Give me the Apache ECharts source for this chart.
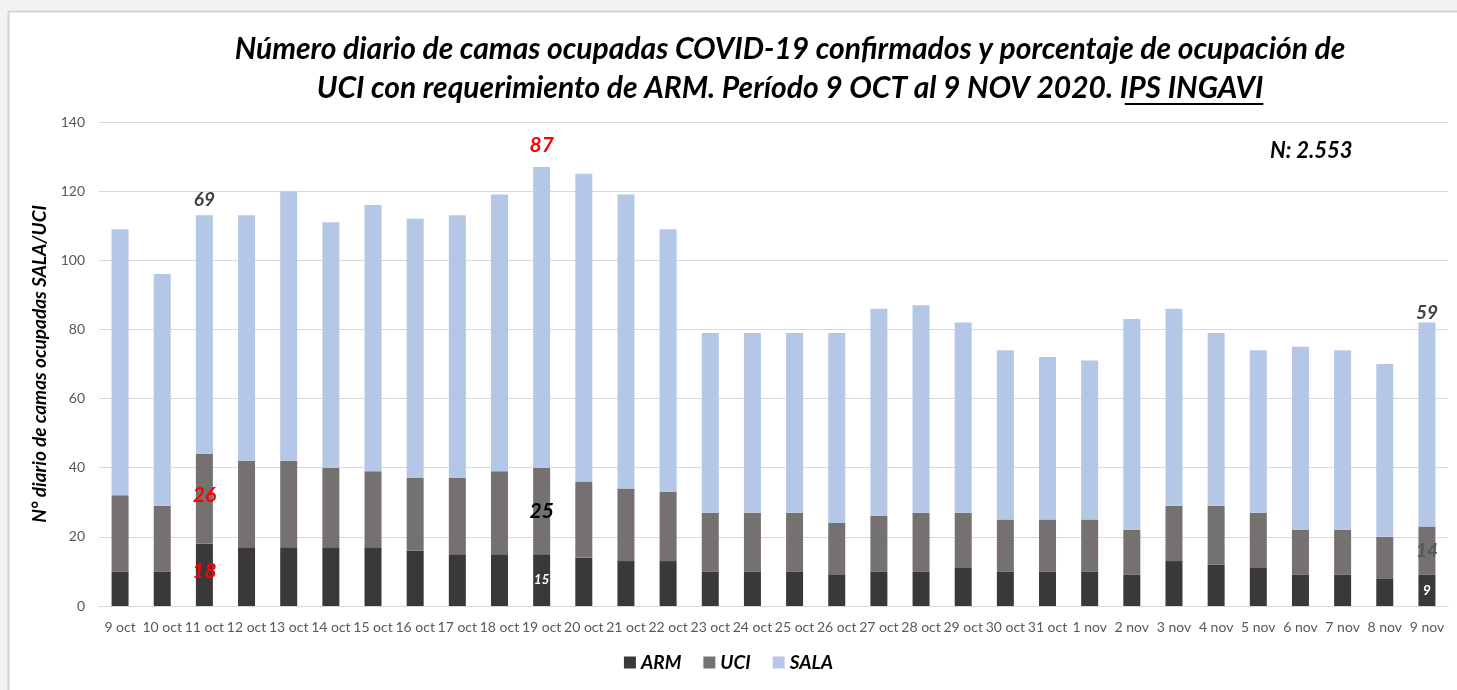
<!DOCTYPE html>
<html>
<head>
<meta charset="utf-8">
<script src="https://cdn.jsdelivr.net/npm/echarts@6/dist/echarts.min.js"></script>
<style>
  html, body { margin: 0; padding: 0; background: #f2f2f2; }
  #chart { width: 1457px; height: 690px; }
</style>
</head>
<body>
<div id="chart"></div>
<script>
// categories (days)
const days = ['9 oct', '10 oct', '11 oct', '12 oct', '13 oct', '14 oct', '15 oct', '16 oct',
  '17 oct', '18 oct', '19 oct', '20 oct', '21 oct', '22 oct', '23 oct', '24 oct', '25 oct',
  '26 oct', '27 oct', '28 oct', '29 oct', '30 oct', '31 oct', '1 nov', '2 nov', '3 nov',
  '4 nov', '5 nov', '6 nov', '7 nov', '8 nov', '9 nov']

// beds per day, stacked ARM + UCI + SALA
const arm  = [10, 10, 18, 17, 17, 17, 17, 16, 15, 15, 15, 14, 13, 13, 10, 10, 10, 9, 10, 10, 11, 10, 10, 10, 9, 13, 12, 11, 9, 9, 8, 9]
const uci  = [22, 19, 26, 25, 25, 23, 22, 21, 22, 24, 25, 22, 21, 20, 17, 17, 17, 15, 16, 17, 16, 15, 15, 15, 13, 16, 17, 16, 13, 13, 12, 14]
const sala = [77, 67, 69, 71, 78, 71, 77, 75, 76, 80, 87, 89, 85, 76, 52, 52, 52, 55, 60, 60, 55, 49, 47, 46, 61, 57, 50, 47, 53, 52, 50, 59]

const yTicks = [0, 20, 40, 60, 80, 100, 120, 140]
const total = 'N: 2.553'

const titleLine1 = 'Número diario de camas ocupadas COVID-19 confirmados y porcentaje de ocupación de'
const titleLine2 = 'UCI con requerimiento de ARM. Período 9 OCT al 9 NOV 2020. IPS INGAVI'
const underlined = 'IPS INGAVI'

const FONT = 'Lato, "Open Sans", sans-serif'
const bi = {fontStyle: 'italic', fontWeight: 'bold', fontFamily: FONT}

// labelled bars: which day gets a value label, per series
function withLabels (values, marks) {
    return values.map((v, i) => marks[i] ? {value: v, label: Object.assign({show: true}, bi, marks[i])} : v)
}

const armData = withLabels(arm, {
    2: {position: 'inside', color: '#ff0000', fontSize: 21, offset: [0, -4]},
    10: {position: 'inside', color: '#ffffff', fontSize: 13},
    31: {position: 'inside', color: '#ffffff', fontSize: 14}
})
const uciData = withLabels(uci, {
    2: {position: 'inside', color: '#ff0000', fontSize: 21, offset: [0, -4]},
    10: {position: 'inside', color: '#000000', fontSize: 21},
    31: {position: 'inside', color: '#595959', fontSize: 19}
})
const salaData = withLabels(sala, {
    2: {position: 'top', color: '#404040', fontSize: 19, distance: 6},
    10: {position: 'top', color: '#ff0000', fontSize: 21, distance: 11},
    31: {position: 'top', color: '#404040', fontSize: 19, distance: 0}
})

const el = document.getElementById('chart')
const chart = echarts.init(el)

// underline under "IPS INGAVI" in the title
const TITLE_SIZE = 30
const ctx = document.createElement('canvas').getContext('2d')
ctx.font = 'italic bold ' + TITLE_SIZE + 'px ' + FONT
const w2 = ctx.measureText(titleLine2).width
const wU = ctx.measureText(underlined).width
const cx = 790

const option = {
    backgroundColor: '#f2f2f2',
    animation: false,
    title: {
        text: titleLine1 + '\n' + titleLine2,
        left: cx,
        top: 30,
        padding: 0,
        textAlign: 'center',
        textStyle: Object.assign({}, bi, {fontSize: TITLE_SIZE, lineHeight: 39, color: '#000'})
    },
    graphic: [
        {type: 'rect', z: -10, shape: {x: 8.5, y: 11.5, width: 1460, height: 690},
            style: {fill: '#ffffff', stroke: '#d4d4d4', lineWidth: 2}},
        {type: 'line', shape: {x1: cx + w2 / 2 - wU + 5, y1: 104, x2: cx + w2 / 2, y2: 104},
            style: {stroke: '#000', lineWidth: 2}},
        {type: 'text', left: 1270, top: 140,
            style: Object.assign({}, bi, {text: total, fontSize: 22, fill: '#000'})}
    ],
    legend: {
        bottom: 13,
        left: 'center',
        itemWidth: 12,
        itemHeight: 12,
        itemGap: 22,
        icon: 'rect',
        textStyle: Object.assign({}, bi, {fontSize: 19, color: '#000'}),
        data: ['ARM', 'UCI', 'SALA']
    },
    grid: {left: 99, right: 9, top: 122, bottom: 84},
    xAxis: {
        type: 'category',
        data: days,
        axisTick: {show: false},
        axisLine: {lineStyle: {color: '#d9d9d9', width: 1}},
        axisLabel: {interval: 0, color: '#595959', fontSize: 14, fontFamily: FONT, margin: 14}
    },
    yAxis: {
        type: 'value',
        min: yTicks[0],
        max: yTicks[yTicks.length - 1],
        interval: yTicks[1] - yTicks[0],
        name: 'N° diario de camas ocupadas SALA/UCI',
        nameLocation: 'middle',
        nameGap: 34,
        nameTextStyle: Object.assign({}, bi, {fontSize: 19, color: '#000'}),
        axisLabel: {color: '#595959', fontSize: 14, fontFamily: FONT, margin: 14},
        splitLine: {lineStyle: {color: '#d9d9d9'}}
    },
    series: [
        {name: 'ARM', type: 'bar', stack: 'camas', barWidth: 17, data: armData, itemStyle: {color: '#3a3838'}},
        {name: 'UCI', type: 'bar', stack: 'camas', barWidth: 17, data: uciData, itemStyle: {color: '#767171'}},
        {name: 'SALA', type: 'bar', stack: 'camas', barWidth: 17, data: salaData, itemStyle: {color: '#b4c7e7'}}
    ]
}

chart.setOption(option)
</script>
</body>
</html>
